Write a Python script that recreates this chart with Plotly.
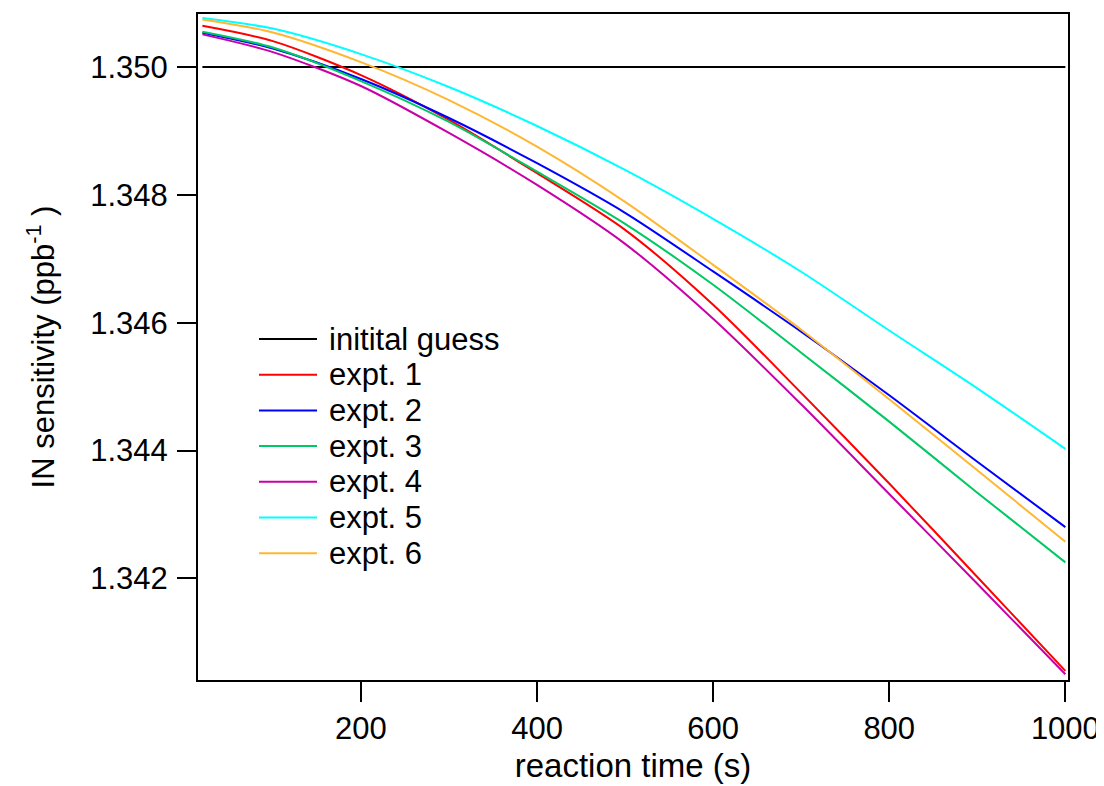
import plotly.graph_objects as go

# reaction time (s)
time_s = [20, 100, 200, 300, 400, 500, 600, 700, 800, 900, 1000]

initial_guess = [1.350] * len(time_s)

expt1 = [1.350645, 1.350406, 1.349875, 1.349172, 1.348339, 1.347453, 1.346281, 1.344902, 1.343484, 1.342022, 1.340552]
expt2 = [1.350536, 1.350289, 1.349813, 1.349203, 1.348495, 1.347719, 1.346802, 1.345859, 1.344864, 1.343825, 1.342802]
expt3 = [1.350552, 1.350305, 1.349781, 1.349141, 1.348364, 1.347547, 1.346594, 1.345531, 1.344453, 1.343341, 1.342250]
expt4 = [1.350511, 1.350234, 1.349703, 1.348969, 1.348156, 1.347234, 1.346062, 1.344723, 1.343320, 1.341916, 1.340500]
expt5 = [1.350766, 1.350602, 1.350203, 1.349688, 1.349078, 1.348391, 1.347625, 1.346797, 1.345878, 1.344973, 1.344027]
expt6 = [1.350745, 1.350542, 1.350078, 1.349484, 1.348755, 1.347891, 1.346905, 1.345891, 1.344802, 1.343691, 1.342573]

names = ["initital guess", "expt. 1", "expt. 2", "expt. 3", "expt. 4", "expt. 5", "expt. 6"]
series = [initial_guess, expt1, expt2, expt3, expt4, expt5, expt6]
colors = ["#000000", "#ff0000", "#0000ff", "#00c864", "#c800a8", "#00ffff", "#ffb732"]

x_ticks = [200, 400, 600, 800, 1000]
y_ticks = [1.342, 1.344, 1.346, 1.348, 1.350]

FONT = "Liberation Sans, Arial, sans-serif"

# figure geometry (the page body adds an 8px offset)
W, H = 1096, 778
ML, MR, MT, MB = 190, 36, 6, 106
PW, PH = W - ML - MR, H - MT - MB
OFF = 8  # page offset in screen pixels

def px_x(p):
    return (p - OFF - ML) / PW

def px_y(p):
    return (H - MB - (p - OFF)) / PH

fig = go.Figure()
for name, ys, c in zip(names, series, colors):
    fig.add_trace(go.Scatter(
        x=time_s, y=ys, mode="lines", name=name, showlegend=False,
        line=dict(color=c, width=2, shape="linear" if name == "initital guess" else "spline", smoothing=0.8),
    ))

# legend: line sample + label for each series
leg_top, leg_step = 339, 35.7
for i, (name, c) in enumerate(zip(names, colors)):
    yc = leg_top + i * leg_step
    fig.add_shape(type="line", xref="paper", yref="paper",
                  x0=px_x(259), x1=px_x(317), y0=px_y(yc), y1=px_y(yc),
                  line=dict(color=c, width=2))
    fig.add_annotation(xref="paper", yref="paper", x=px_x(327), y=px_y(yc),
                       xanchor="left", yanchor="middle", showarrow=False,
                       text=name, font=dict(family=FONT, size=31, color="black"))

fig.update_layout(
    width=W, height=H,
    margin=dict(l=ML, r=MR, t=MT, b=MB),
    paper_bgcolor="white", plot_bgcolor="white",
    font=dict(family=FONT, size=31, color="black"),
    showlegend=False,
)
fig.update_xaxes(
    range=[15, 1003], tickvals=x_ticks, ticktext=[str(v) for v in x_ticks],
    showgrid=False, zeroline=False, automargin=False,
    showline=True, linecolor="black", linewidth=2, mirror=True,
    ticks="outside", ticklen=20, tickwidth=2, tickcolor="black",
    ticklabelstandoff=0,
    tickfont=dict(family=FONT, size=31, color="black"),
    title=dict(text="reaction time (s)", font=dict(family=FONT, size=33, color="black"), standoff=9),
)
fig.update_yaxes(
    range=[1.34041, 1.35083], tickvals=y_ticks, ticktext=[f"{v:.3f}" for v in y_ticks],
    showgrid=False, zeroline=False, automargin=False,
    showline=True, linecolor="black", linewidth=2, mirror=True,
    ticks="outside", ticklen=19, tickwidth=2, tickcolor="black",
    ticklabelstandoff=3,
    tickfont=dict(family=FONT, size=31, color="black"),
    title=dict(text="IN sensitivity (ppb<sup>-1</sup> )", font=dict(family=FONT, size=31, color="black"), standoff=26),
)

fig.write_html("out.html")
